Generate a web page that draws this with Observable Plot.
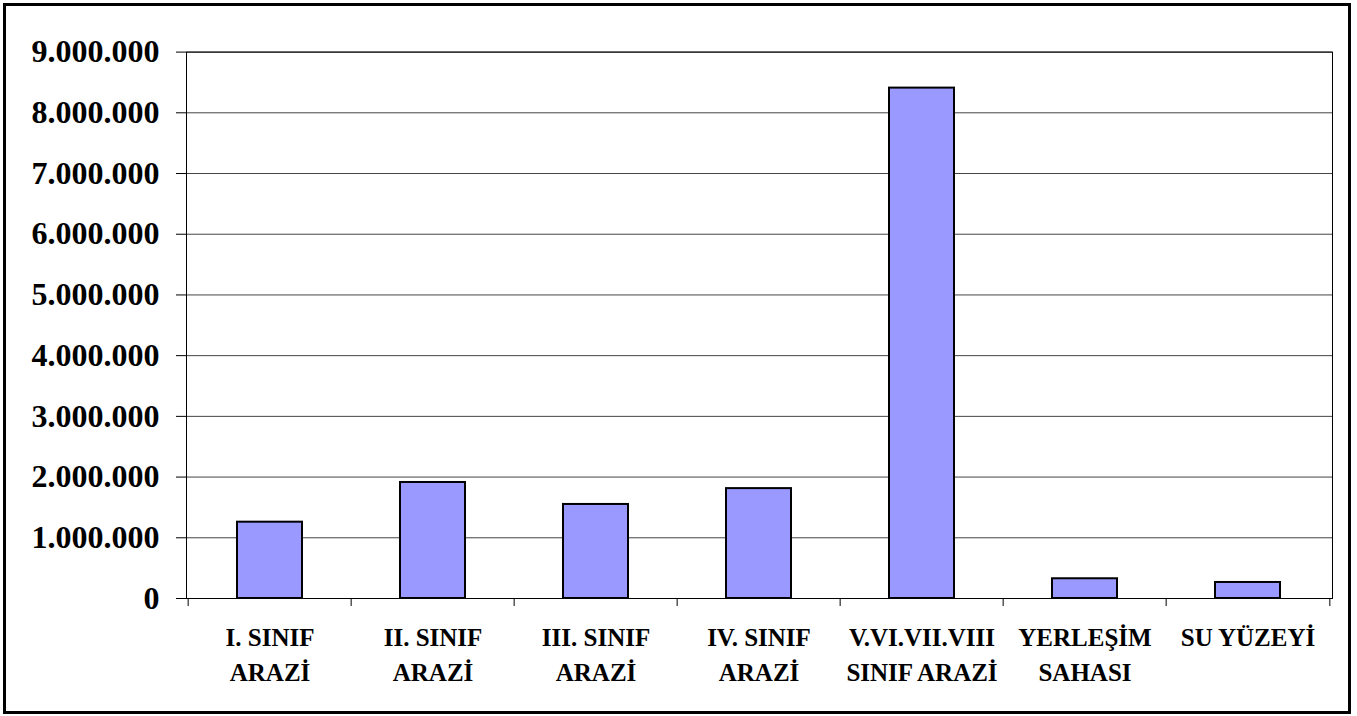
<!DOCTYPE html>
<html><head><meta charset="utf-8">
<script src="https://cdn.jsdelivr.net/npm/d3@7"></script>
<script src="https://cdn.jsdelivr.net/npm/@observablehq/plot@0.6"></script>
<style>
body{margin:0;background:#fff;}
#wrap{position:absolute;left:3px;top:3px;width:1342px;height:705px;border:3px solid #000;background:#fff;}
svg{display:block;}
</style></head><body><div id="wrap"></div>
<script>
const categories = ["I. SINIF\nARAZİ", "II. SINIF\nARAZİ", "III. SINIF\nARAZİ", "IV. SINIF\nARAZİ", "V.VI.VII.VIII\nSINIF ARAZİ", "YERLEŞİM\nSAHASI", "SU YÜZEYİ"];
const values = [1257000, 1911000, 1549000, 1810000, 8407000, 325000, 264000];
const yTicks = [0, 1000000, 2000000, 3000000, 4000000, 5000000, 6000000, 7000000, 8000000, 9000000];

const data = categories.map((c, i) => ({cat: c, value: values[i]}));
const W = 1342, H = 705, ML = 180, MR = 16, MT = 45.6, MB = 113;
const step = (W - ML - MR) / categories.length;
const plotH = H - MT - MB;
const fmt = d3.formatLocale({decimal: ",", thousands: ".", grouping: [3], currency: ["", ""]}).format(",");

const chart = Plot.plot({
  width: W, height: H,
  marginLeft: ML, marginRight: MR, marginTop: MT, marginBottom: MB,
  style: {fontFamily: "'Liberation Serif', 'Times New Roman', serif", background: "#fff", color: "#000"},
  x: {domain: categories, paddingInner: 0.6, paddingOuter: 0.3},
  y: {domain: [0, 9000000]},
  marks: [
    Plot.gridY(yTicks, {stroke: "#444", strokeOpacity: 1, strokeWidth: 1}),
    Plot.barY(data, {x: "cat", y: "value", fill: "#9999FF", stroke: "#000", strokeWidth: 2}),
    Plot.frame({stroke: "#000", strokeWidth: 1}),
    Plot.ruleX(categories, {x: d => d, dx: -step / 2, insetTop: plotH, insetBottom: -8, stroke: "#000"}),
    Plot.ruleX([categories[categories.length - 1]], {x: d => d, dx: step / 2, insetTop: plotH, insetBottom: -8, stroke: "#000"}),
    Plot.axisY({ticks: yTicks, tickSize: 10, tickPadding: 17, fontSize: 32, fontWeight: "bold", tickFormat: fmt, label: null, stroke: "#000"}),
    Plot.axisX({tickSize: 0, tickPadding: 22, fontSize: 25, fontWeight: "bold", lineHeight: 1.42, label: null})
  ]
});
document.getElementById("wrap").appendChild(chart);
</script></body></html>
